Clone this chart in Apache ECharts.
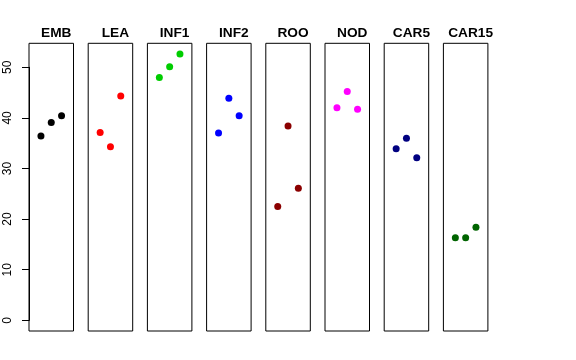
<!DOCTYPE html>
<html>
<head>
<meta charset="utf-8">
<script src="https://cdn.jsdelivr.net/npm/echarts@6/dist/echarts.min.js"></script>
<style>html,body{margin:0;padding:0;background:#fff}#c{width:576px;height:360px}</style>
</head>
<body>
<div id="c"></div>
<script>
const categories = ['EMB','LEA','INF1','INF2','ROO','NOD','CAR5','CAR15'];
const EMB   = [36.4, 39.1, 40.4];
const LEA   = [37.1, 34.3, 44.3];
const INF1  = [48.0, 50.1, 52.6];
const INF2  = [37.0, 43.9, 40.4];
const ROO   = [22.5, 38.4, 26.1];
const NOD   = [42.0, 45.2, 41.7];
const CAR5  = [33.9, 36.0, 32.1];
const CAR15 = [16.3, 16.3, 18.4];
const seriesValues = [EMB, LEA, INF1, INF2, ROO, NOD, CAR5, CAR15];
const colors = ['#000000','#FF0000','#00CD00','#0000FF','#8B0000','#FF00FF','#000080','#006400'];
const yTicks = [0, 10, 20, 30, 40, 50];
const xPositions = [1, 2, 3];

const FONT = 'Liberation Sans, Arial, sans-serif';
const yMin = -2.105, yMax = 54.735;
const panelTop = 43.3, panelHeight = 287.7, panelWidth = 44.5, firstLeft = 29, step = 59.2;

const grid = [], xAxis = [], yAxis = [], series = [], title = [];
categories.forEach((cat, i) => {
  const left = firstLeft + i * step;
  grid.push({left: left, top: panelTop, width: panelWidth, height: panelHeight,
    show: true, borderColor: '#000', borderWidth: 1, backgroundColor: 'transparent'});
  xAxis.push({gridIndex: i, type: 'value', min: -0.16, max: 4.16, show: false});
  yAxis.push({gridIndex: i, type: 'value', min: yMin, max: yMax, show: false});
  series.push({type: 'scatter', xAxisIndex: i, yAxisIndex: i, symbol: 'circle', symbolSize: 7,
    itemStyle: {color: colors[i], opacity: 1}, silent: true,
    data: seriesValues[i].map((v, j) => [xPositions[j], v])});
  title.push({text: cat, left: left + panelWidth / 2, top: 21, textAlign: 'center',
    textStyle: {fontFamily: FONT, fontWeight: 'bold', fontSize: 13.7, color: '#000'}});
});
// y axis (drawn from 0 to 50 only, like base R)
const axisIdx = categories.length;
const pxPerUnit = panelHeight / (yMax - yMin);
const y0 = panelTop + (yMax - 0) * pxPerUnit;
const y50 = panelTop + (yMax - 50) * pxPerUnit;
grid.push({left: firstLeft, top: y50, width: 1, height: y0 - y50, show: false});
xAxis.push({gridIndex: axisIdx, type: 'value', min: 0, max: 1, show: false});
yAxis.push({gridIndex: axisIdx, type: 'value', min: yTicks[0], max: yTicks[yTicks.length - 1], interval: 10,
  axisLine: {show: true, lineStyle: {color: '#000', width: 1}},
  axisTick: {show: true, length: 7, lineStyle: {color: '#000'}},
  splitLine: {show: false},
  axisLabel: {rotate: 90, margin: 15, fontFamily: FONT, fontSize: 12, color: '#000'}});

const chart = echarts.init(document.getElementById('c'), null, {renderer: 'canvas'});
chart.setOption({animation: false, backgroundColor: '#fff', title, grid, xAxis, yAxis, series});
</script>
</body>
</html>
